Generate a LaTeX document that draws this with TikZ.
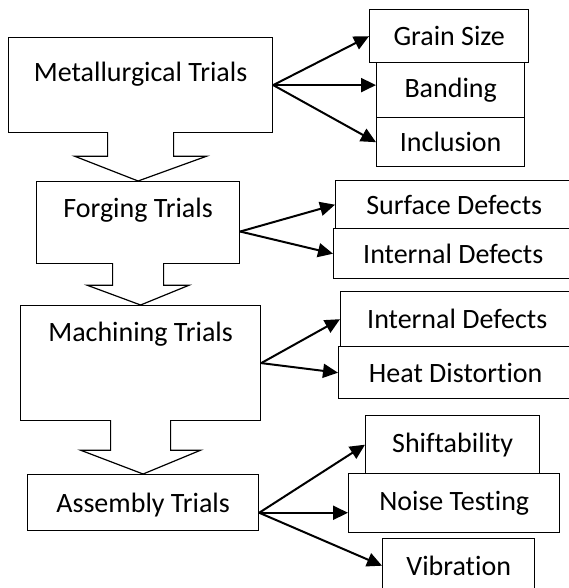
\documentclass[tikz,border=0pt]{standalone}
\usepackage{fontspec}
\setmainfont{Carlito}[Ligatures={NoCommon}]
\usetikzlibrary{arrows.meta,calc}

\begin{document}
\begin{tikzpicture}[x=1pt,y=-1pt,
    trialbox/.style={draw, line width=1.2pt, inner sep=0pt, anchor=north west, font=\fontsize{28}{34}\selectfont},
    itembox/.style={draw, line width=1.4pt, inner sep=0pt, anchor=north west, font=\fontsize{28}{34}\selectfont},
    branch/.style={line width=2pt, -{Triangle[length=15pt,width=14pt]}},
    blockarr/.style={line width=1.2pt, fill=white}]
  \useasboundingbox (0,0) rectangle (568,588);

  % trial stages
  \node[trialbox, minimum width=264pt, text height=44pt, text depth=51pt] (met) at (8,37) {Metallurgical Trials};
  \node[trialbox, minimum width=203pt, text height=36pt, text depth=46pt] (forg) at (36,181) {Forging Trials};
  \node[trialbox, minimum width=240pt, text height=36pt, text depth=79pt] (mach) at (20,305) {Machining Trials};
  \node[trialbox, minimum width=231pt, text height=38pt, text depth=18pt] (asm) at (27,474) {Assembly Trials};

  % checks per stage
  \node[itembox, minimum width=159pt, minimum height=53pt] (grain) at (369,9) {Grain Size};
  \node[itembox, minimum width=148pt, minimum height=55pt] (band) at (376,62) {Banding};
  \node[itembox, minimum width=148pt, minimum height=49pt] (incl) at (376,117) {Inclusion};

  \node[itembox, minimum width=237pt, minimum height=48pt] (surf) at (335,180) {Surface Defects};
  \node[itembox, minimum width=239pt, minimum height=50pt] (intA) at (333,228) {Internal Defects};

  \node[itembox, minimum width=233pt, minimum height=55pt] (intB) at (340,291) {Internal Defects};
  \node[itembox, minimum width=234pt, minimum height=52pt] (heat) at (338,346) {Heat Distortion};

  \node[itembox, minimum width=174pt, minimum height=58pt] (shift) at (365,415) {Shiftability};
  \node[itembox, minimum width=211pt, minimum height=59pt] (noise) at (348,473) {Noise Testing};
  \node[itembox, minimum width=152pt, minimum height=54pt] (vib) at (382,538) {Vibration};

  % block arrows between stages
  \foreach \a/\b/\stem/\head/\len in {met/forg/33/66/23, forg/mach/25.5/51/21, mach/asm/30/60/29}
    \draw[blockarr] ($(\a.south)+(-\stem,-1)$) -- ++(0,\len+1) -- ++(\stem-\head,0) -- (\b.north)
      -- ($(\a.south)+(\head,\len)$) -- ++(\stem-\head,0) -- ++(0,-\len-1);

  % branches
  \draw[branch] (met.east) -- (grain.west);
  \draw[branch] (met.east) -- (met.east -| band.west);
  \draw[branch] (met.east) -- (incl.west);

  \draw[branch] (forg.-5) -- (surf.west);
  \draw[branch] (forg.-5) -- (intA.west);

  \draw[branch] (mach.east) -- (intB.west);
  \draw[branch] (mach.east) -- (heat.west);

  \draw[branch] (asm.-5) -- (shift.west);
  \draw[branch] (asm.-5) -- (asm.-5 -| noise.west);
  \draw[branch] (asm.-5) -- (vib.west);
\end{tikzpicture}
\end{document}
